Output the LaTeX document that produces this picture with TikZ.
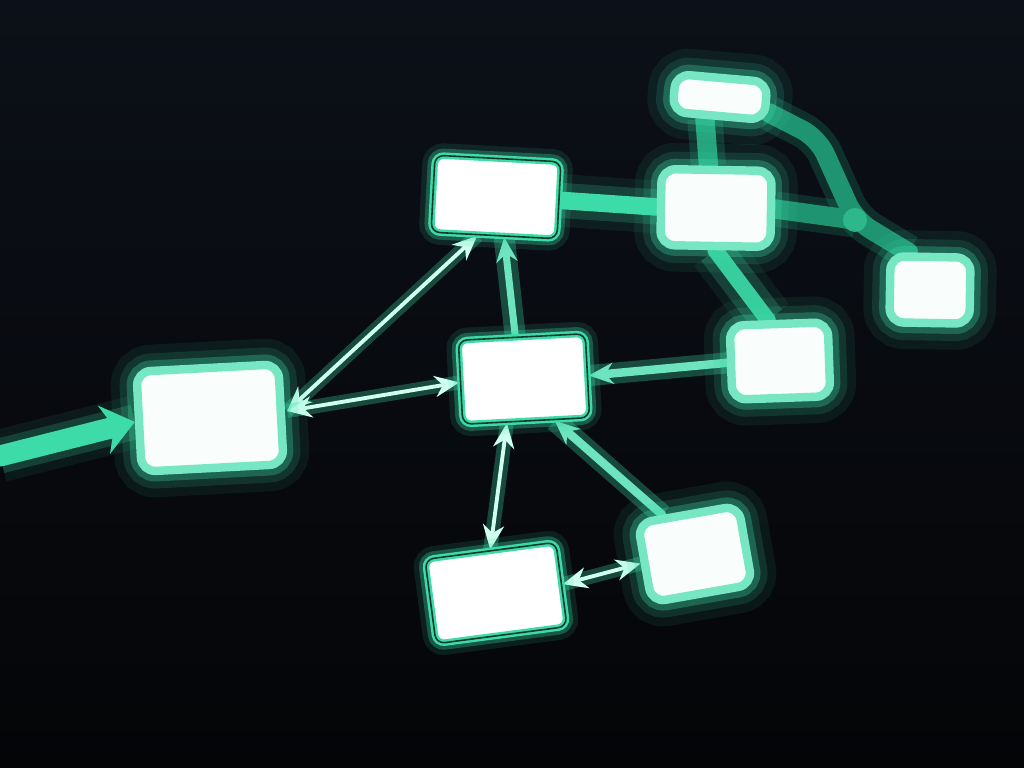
\documentclass[tikz,border=0pt]{standalone}
\usetikzlibrary{arrows.meta,calc}
\definecolor{tealc}{HTML}{3DDBA8}
\definecolor{mint}{HTML}{CFFFEF}
\definecolor{deepteal}{HTML}{1E9470}
\definecolor{bgtop}{HTML}{0C1018}
\definecolor{bgbot}{HTML}{040507}
\definecolor{gapc}{HTML}{0E3A2E}
\pgfdeclarelayer{bgfill}
\pgfdeclarelayer{edges}
\pgfsetlayers{bgfill,edges,main}
\tikzset{
  mytip/.tip={Stealth[length=7pt, width=6pt]},
  sharpbox/.style={rectangle, rounded corners=2.5pt, inner sep=0pt, fill=white,
    draw=tealc, line width=0.7pt, double=gapc, double distance=0.45pt,
    preaction={draw=tealc, line width=7pt, opacity=0.12},
    preaction={draw=tealc, line width=4pt, opacity=0.3}},
  softbox/.style={rectangle, rounded corners=4pt, inner sep=0pt, fill=white!97!tealc,
    draw=tealc!70!white, line width=2.4pt,
    preaction={draw=tealc, line width=15pt, opacity=0.08},
    preaction={draw=tealc, line width=10pt, opacity=0.14},
    preaction={draw=tealc, line width=6pt, opacity=0.3}},
  thinarrow/.style={draw=mint, line width=1.1pt,
    preaction={draw=tealc, line width=4pt, opacity=0.3, arrows=-}},
  midline/.style={draw=tealc!75!white, line width=2.4pt, line cap=round,
    preaction={draw=tealc, line width=6pt, opacity=0.3, arrows=-}},
  farline/.style={draw=tealc, line width=5pt, line cap=round,
    preaction={draw=tealc, line width=10pt, opacity=0.2, arrows=-},
    preaction={draw=tealc, line width=15pt, opacity=0.08, arrows=-}},
  deepline/.style={draw=deepteal, line width=5.5pt, line cap=round, line join=round,
    preaction={draw=deepteal, line width=10pt, opacity=0.25, arrows=-}},
}
\begin{document}
\begin{tikzpicture}[x=0.01cm, y=-0.01cm]
\useasboundingbox (0,0) rectangle (1024,768);
\begin{pgfonlayer}{bgfill}
\shade[top color=bgtop, bottom color=bgbot] (0,0) rectangle (1024,768);
\end{pgfonlayer}

% nodes
\node[softbox, minimum width=0.92cm, minimum height=0.38cm, rotate=-5] (A) at (720,97) {};
\node[sharpbox, minimum width=1.26cm, minimum height=0.77cm, rotate=-3] (B) at (496,197) {};
\node[softbox, minimum width=1.10cm, minimum height=0.76cm, rotate=-1] (C) at (716,208) {};
\node[softbox, minimum width=0.80cm, minimum height=0.66cm, rotate=-1] (D) at (930,290) {};
\node[sharpbox, minimum width=1.27cm, minimum height=0.84cm, rotate=3] (E) at (524,379) {};
\node[softbox, minimum width=0.98cm, minimum height=0.74cm, rotate=2] (F) at (780,361) {};
\node[softbox, minimum width=1.42cm, minimum height=1.00cm, rotate=3] (G) at (210,418) {};
\node[sharpbox, minimum width=1.32cm, minimum height=0.85cm, rotate=7.5] (H) at (496,593) {};
\node[softbox, minimum width=1.02cm, minimum height=0.80cm, rotate=10] (I) at (695,554) {};

\coordinate (in) at (0,456);
\coordinate (j) at (855,220);
\coordinate (bend) at (818,138);

\begin{pgfonlayer}{edges}
% far connectors
\draw[deepline, rounded corners=5pt] ($(A.south east)!0.25!(A.north east)$) -- (bend) -- (j) -- ($(D.north west)!0.25!(D.north east)$);
\draw[deepline] (C.east) -- (j);
\fill[tealc!55!deepteal, opacity=0.9] (j) circle (12);
\draw[deepline, draw=deepteal!80!tealc] ($(A.south west)!0.37!(A.south east)$) -- ($(C.north west)!0.43!(C.north east)$);
\draw[farline] (B.east) -- (C.west);
\draw[farline, draw=tealc!80!deepteal, line width=4.5pt] ($(C.south west)!0.5!(C.south east)$) -- ($(F.north west)!0.4!(F.north east)$);
\draw[farline, line width=6pt, -{Stealth[length=9pt, width=14pt]}] (in) -- (G.west);

% mid connectors
\draw[midline, -mytip] (F.west) -- (E.east);
\draw[midline, -mytip] ($(I.north west)!0.27!(I.north east)$) -- ($(E.south west)!0.72!(E.south east)$);
\draw[midline, line width=2pt, -mytip] ($(E.north west)!0.45!(E.north east)$) -- ($(B.south west)!0.58!(B.south east)$);

% thin double arrows
\draw[thinarrow, mytip-mytip] ($(G.east)+(2,-3)$) -- ($(B.south west)!0.37!(B.south east)$);
\draw[thinarrow, mytip-mytip] ($(G.east)+(2,-3)$) -- (E.west);
\draw[thinarrow, mytip-mytip] ($(E.south west)!0.35!(E.south east)$) -- (H.north);
\draw[thinarrow, mytip-mytip] (H.east) -- (I.west);
\end{pgfonlayer}
\end{tikzpicture}
\end{document}
